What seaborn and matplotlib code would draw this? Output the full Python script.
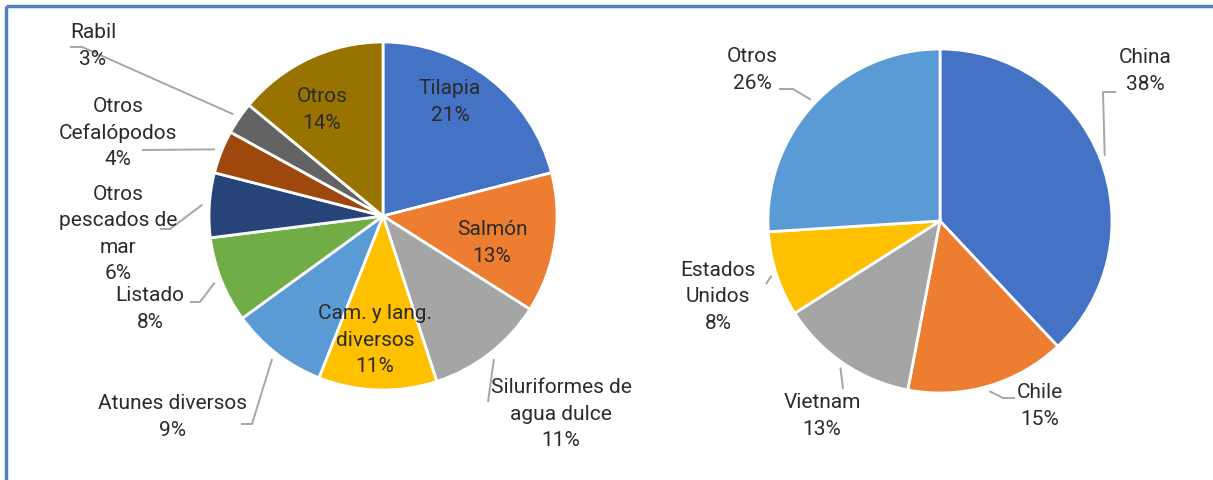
import numpy as np
import matplotlib
matplotlib.use("Agg")
import matplotlib.pyplot as plt
import seaborn as sns

# Species share (left pie)
especies = ["Tilapia", "Salmón", "Siluriformes de agua dulce", "Cam. y lang. diversos",
            "Atunes diversos", "Listado", "Otros pescados de mar", "Otros Cefalópodos",
            "Rabil", "Otros"]
especies_pct = [21, 13, 11, 11, 9, 8, 6, 4, 3, 14]
especies_etiquetas = ["Tilapia", "Salmón", "Siluriformes de\nagua dulce", "Cam. y lang.\ndiversos",
                      "Atunes diversos", "Listado", "Otros\npescados de\nmar", "Otros\nCefalópodos",
                      "Rabil", "Otros"]
especies_colores = ["#4472C4", "#ED7D31", "#A5A5A5", "#FFC000", "#5B9BD5",
                    "#70AD47", "#264478", "#9E480E", "#636363", "#997300"]

# Origin share (right pie)
paises = ["China", "Chile", "Vietnam", "Estados Unidos", "Otros"]
paises_pct = [38, 15, 13, 8, 26]
paises_etiquetas = ["China", "Chile", "Vietnam", "Estados\nUnidos", "Otros"]
paises_colores = ["#4472C4", "#ED7D31", "#A5A5A5", "#FFC000", "#5B9BD5"]

sns.set_theme(style="white")
plt.rcParams["font.family"] = ["Roboto", "DejaVu Sans"]

W, H = 1213, 480
fig = plt.figure(figsize=(W / 100, H / 100), dpi=100)
ax = fig.add_axes([0, 0, 1, 1])

TXT = "#2b2b2b"
LEAD = "#A6A6A6"
FS = 15
LS = 1.5


def draw_pie(values, colors, center, radius):
    wedges, _ = ax.pie(values, colors=sns.color_palette(colors), center=center, radius=radius,
                       startangle=-90, counterclock=True, frame=True,
                       wedgeprops=dict(edgecolor="white", linewidth=2))
    return wedges


def edge_point(wedge, factor):
    mid = np.deg2rad((wedge.theta1 + wedge.theta2) / 2)
    cx, cy = wedge.center
    r = wedge.r * factor
    return cx + r * np.cos(mid), cy + r * np.sin(mid)


def label(text, xy, value, ha="center"):
    ax.text(xy[0], xy[1], f"{text}\n{value}%", ha=ha, va="center", fontsize=FS,
            color=TXT, linespacing=LS)


def leader(wedge, path, factor=1.04):
    x0, y0 = edge_point(wedge, factor)
    xs = [x0] + [p[0] for p in path]
    ys = [y0] + [p[1] for p in path]
    ax.plot(xs, ys, color=LEAD, lw=1.4, solid_capstyle="butt", zorder=1)


# Left pie
lw = draw_pie(especies_pct, especies_colores, (383, 216), 174)
inside_left = {0: (450, 102), 1: (492, 243), 3: (375, 340), 9: (322, 110)}
outside_left = {2: (561, 414), 4: (172, 417), 5: (150, 309), 6: (118, 234),
                7: (118, 133), 8: (93, 46)}
paths_left = {2: [(488, 402)], 4: [(252, 424), (241, 424)], 5: [(200, 302), (190, 302)],
              6: [(170, 229), (160, 229)], 7: [(142, 150)], 8: [(82, 47), (70, 47)]}
for i, pos in inside_left.items():
    label(especies_etiquetas[i], pos, especies_pct[i])
for i, pos in outside_left.items():
    label(especies_etiquetas[i], pos, especies_pct[i])
    leader(lw[i], paths_left[i])

# Right pie
rw = draw_pie(paises_pct, paises_colores, (940, 221), 172)
outside_right = {0: (1145, 71), 1: (1040, 406), 2: (822, 416), 3: (718, 297), 4: (752, 70)}
paths_right = {0: [(1103, 92), (1116, 92)], 1: [(1003, 398), (1015, 398)],
               2: [(843, 389)], 3: [(766, 284)], 4: [(793, 89), (779, 89)]}
for i, pos in outside_right.items():
    label(paises_etiquetas[i], pos, paises_pct[i])
    leader(rw[i], paths_right[i], factor=1.03)

ax.set_aspect("equal")
ax.set_xlim(0, W)
ax.set_ylim(H, 0)
ax.axis("off")

# Blue frame along the top and left edges
ax.plot([5.5, W], [5.5, 5.5], color="#4F81BD", lw=2.5, solid_capstyle="butt")
ax.plot([5.5, 5.5], [5.5, H], color="#4F81BD", lw=2.5, solid_capstyle="butt")

fig.savefig("out.png", dpi=100, facecolor="white")
